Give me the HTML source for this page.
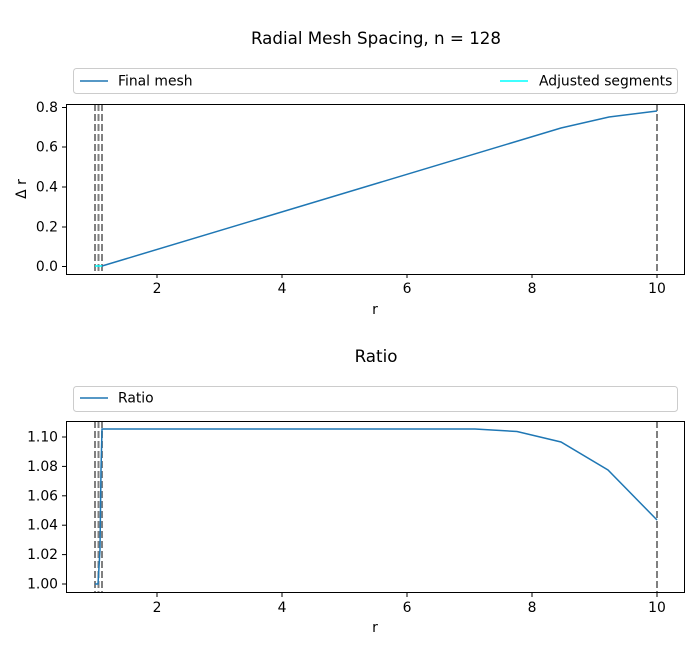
<!DOCTYPE html>
<html><head><meta charset="utf-8"><style>
body{margin:0;background:#fff;}
svg text{font-family:"DejaVu Sans","Liberation Sans",sans-serif;fill:#000;}
</style></head><body>
<svg width="700" height="650" xmlns="http://www.w3.org/2000/svg">
<rect width="700" height="650" fill="#fff"/>
<text x="376" y="44" font-size="16.7" text-anchor="middle">Radial Mesh Spacing, n = 128</text>
<!-- top legend -->
<rect x="73.5" y="68.5" width="604" height="25" rx="3" fill="#fff" stroke="#ccc"/>
<line x1="80" y1="81" x2="108" y2="81" stroke="#1f77b4" stroke-width="1.5"/>
<text x="118" y="85.5" font-size="13.9">Final mesh</text>
<line x1="500" y1="81" x2="528" y2="81" stroke="#00ffff" stroke-width="1.5"/>
<text x="539" y="85.5" font-size="13.9">Adjusted segments</text>
<!-- top axes -->
<g stroke="#808080" stroke-width="2" stroke-dasharray="7,3">
<line x1="95" y1="104" x2="95" y2="274"/><line x1="98.5" y1="104" x2="98.5" y2="274"/><line x1="102" y1="104" x2="102" y2="274"/><line x1="657" y1="104" x2="657" y2="274"/>
</g>
<polyline fill="none" stroke="#1f77b4" stroke-width="1.5" points="102,266 561,128 609,117 657,111"/>
<line x1="95" y1="266" x2="102" y2="266" stroke="#00ffff" stroke-width="1.5"/>
<rect x="66.5" y="104.5" width="618" height="170" fill="none" stroke="#000"/>
<g stroke="#000">
<line x1="157" y1="274" x2="157" y2="278"/><line x1="282" y1="274" x2="282" y2="278"/><line x1="407" y1="274" x2="407" y2="278"/><line x1="532" y1="274" x2="532" y2="278"/><line x1="657" y1="274" x2="657" y2="278"/>
<line x1="62" y1="266.5" x2="66" y2="266.5"/><line x1="62" y1="227" x2="66" y2="227"/><line x1="62" y1="187" x2="66" y2="187"/><line x1="62" y1="147" x2="66" y2="147"/><line x1="62" y1="107.5" x2="66" y2="107.5"/>
</g>
<g font-size="13.9" text-anchor="middle">
<text x="157" y="293">2</text><text x="282" y="293">4</text><text x="407" y="293">6</text><text x="532" y="293">8</text><text x="657" y="293">10</text>
<text x="375" y="314">r</text>
</g>
<g font-size="13.9" text-anchor="end">
<text x="58" y="271">0.0</text><text x="58" y="231.5">0.2</text><text x="58" y="191.5">0.4</text><text x="58" y="151.5">0.6</text><text x="58" y="112">0.8</text>
</g>
<text transform="translate(26,189) rotate(-90)" font-size="13.9" text-anchor="middle">Δ r</text>
<!-- bottom -->
<text x="376" y="362" font-size="16.7" text-anchor="middle">Ratio</text>
<rect x="73.5" y="386.5" width="604" height="25" rx="3" fill="#fff" stroke="#ccc"/>
<line x1="80" y1="398" x2="108" y2="398" stroke="#1f77b4" stroke-width="1.5"/>
<text x="118" y="402.5" font-size="13.9">Ratio</text>
<g stroke="#808080" stroke-width="2" stroke-dasharray="7,3">
<line x1="95" y1="421" x2="95" y2="593"/><line x1="98.5" y1="421" x2="98.5" y2="593"/><line x1="102" y1="421" x2="102" y2="593"/><line x1="657" y1="421" x2="657" y2="593"/>
</g>
<polyline fill="none" stroke="#1f77b4" stroke-width="1.5" points="95,584 98,584 100,550 101,470 102,429 475,429 517,431.5 561,442 608,470 657,520"/>
<rect x="66.5" y="421.5" width="618" height="171" fill="none" stroke="#000"/>
<g stroke="#000">
<line x1="157" y1="593" x2="157" y2="597"/><line x1="282" y1="593" x2="282" y2="597"/><line x1="407" y1="593" x2="407" y2="597"/><line x1="532" y1="593" x2="532" y2="597"/><line x1="657" y1="593" x2="657" y2="597"/>
<line x1="62" y1="584" x2="66" y2="584"/><line x1="62" y1="554.6" x2="66" y2="554.6"/><line x1="62" y1="525.2" x2="66" y2="525.2"/><line x1="62" y1="495.8" x2="66" y2="495.8"/><line x1="62" y1="466.4" x2="66" y2="466.4"/><line x1="62" y1="437" x2="66" y2="437"/>
</g>
<g font-size="13.9" text-anchor="middle">
<text x="157" y="612">2</text><text x="282" y="612">4</text><text x="407" y="612">6</text><text x="532" y="612">8</text><text x="657" y="612">10</text>
<text x="375" y="632">r</text>
</g>
<g font-size="13.9" text-anchor="end">
<text x="58" y="588.5">1.00</text><text x="58" y="559">1.02</text><text x="58" y="529.7">1.04</text><text x="58" y="500.3">1.06</text><text x="58" y="471">1.08</text><text x="58" y="441.5">1.10</text>
</g>
</svg>
</body></html>
